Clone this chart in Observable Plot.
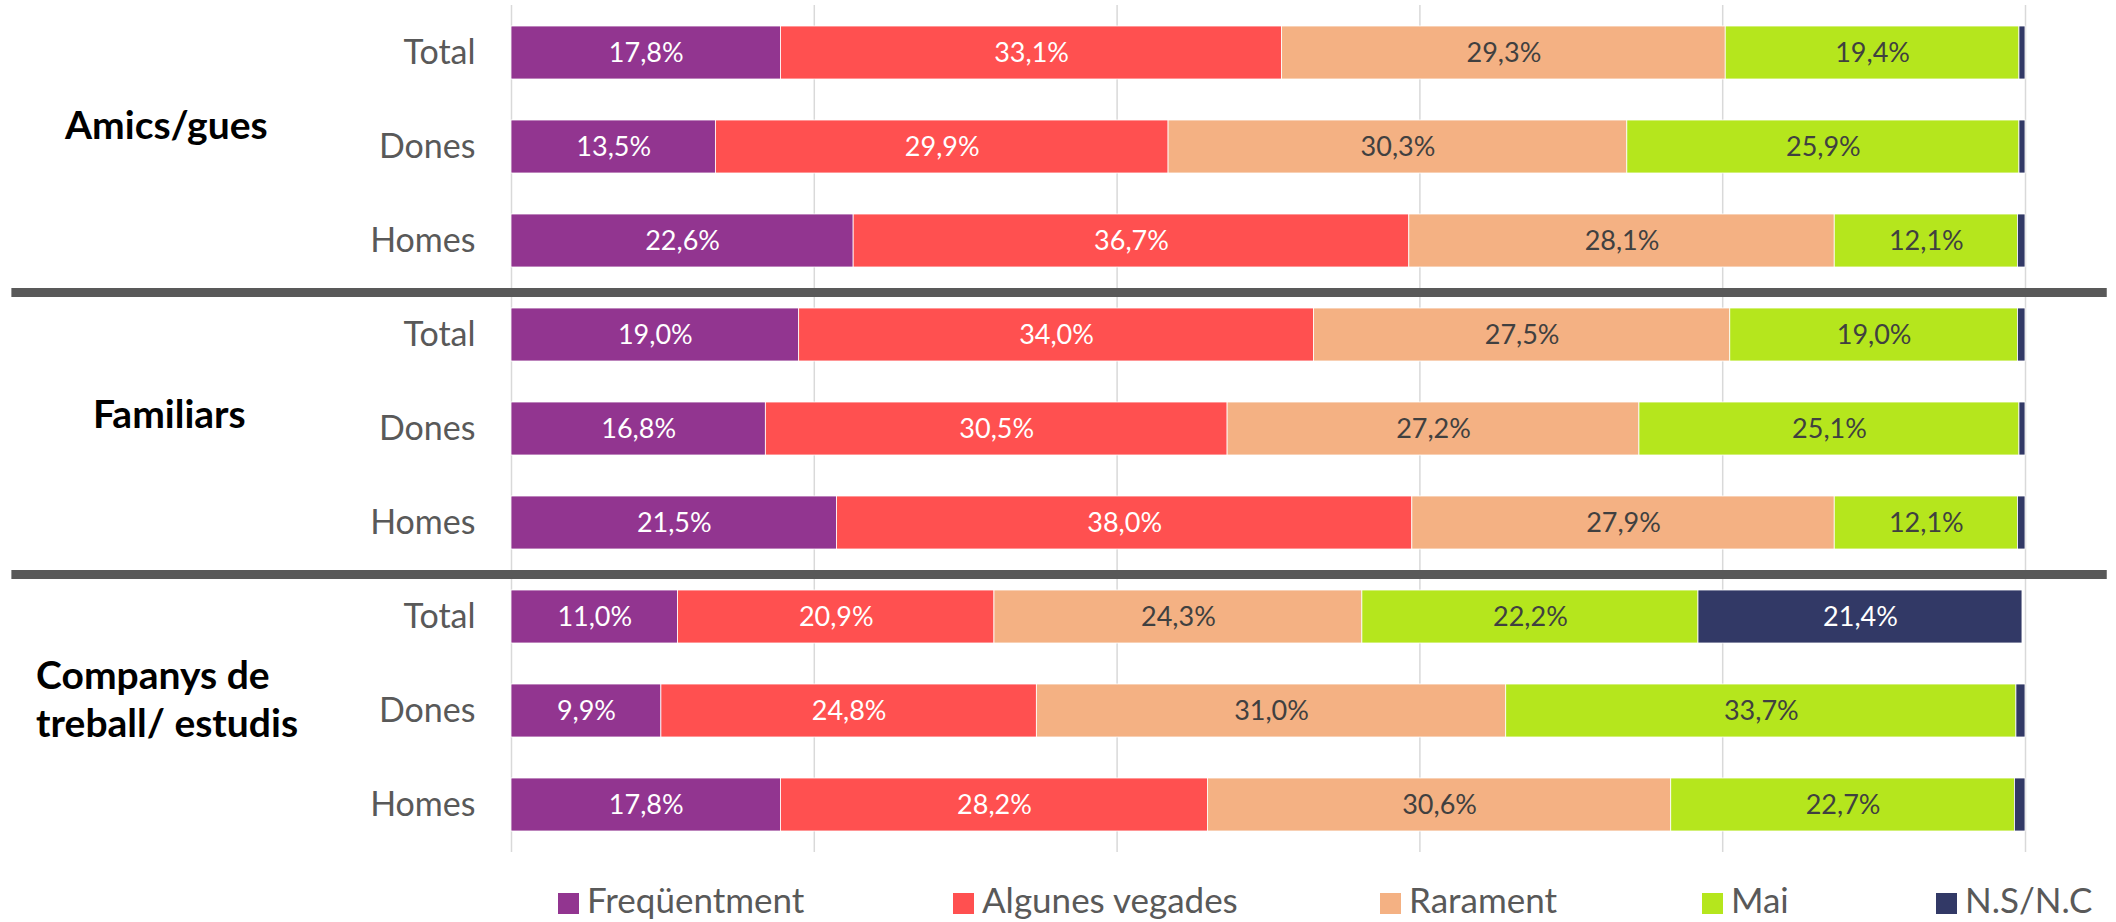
<!DOCTYPE html>
<html>
<head>
<meta charset="utf-8">
<script src="https://cdn.jsdelivr.net/npm/d3@7"></script>
<script src="https://cdn.jsdelivr.net/npm/@observablehq/plot@0.6"></script>
<style>
  html, body { margin: 0; padding: 0; background: #ffffff; }
  #wrap { position: relative; width: 2116px; height: 922px; overflow: hidden; font-family: Lato, "Open Sans", sans-serif; }
  #chart { position: absolute; left: 0; top: 0; }
  .leg { position: absolute; top: 882px; height: 35px; line-height: 35px; font-size: 35px; color: #595959; white-space: nowrap; }
  .leg .sw { position: absolute; left: 0; top: 11px; width: 21px; height: 21px; }
  .leg .lb { position: absolute; left: 29px; top: 0; }
</style>
</head>
<body>
<div id="wrap">
  <div id="chart"></div>
  <div id="legend"></div>
</div>
<script>
// ---- data ----
const groups = ["Amics/gues", "Familiars", "Companys de treball/ estudis"];
const groupTitles = ["Amics/gues", "Familiars", "Companys de\ntreball/ estudis"];
const subgroups = ["Total", "Dones", "Homes"];
const categories = ["Freqüentment", "Algunes vegades", "Rarament", "Mai", "N.S/N.C"];
const colors = ["#923590", "#FF5050", "#F4B183", "#B5E61D", "#323966"];

// rows in order: Amics(Total,Dones,Homes), Familiars(...), Companys(...)
const freqüentment   = [17.8, 13.5, 22.6, 19.0, 16.8, 21.5, 11.0,  9.9, 17.8];
const algunesVegades = [33.1, 29.9, 36.7, 34.0, 30.5, 38.0, 20.9, 24.8, 28.2];
const rarament       = [29.3, 30.3, 28.1, 27.5, 27.2, 27.9, 24.3, 31.0, 30.6];
const mai            = [19.4, 25.9, 12.1, 19.0, 25.1, 12.1, 22.2, 33.7, 22.7];
const nsnc           = [ 0.4,  0.4,  0.5,  0.5,  0.4,  0.5, 21.4,  0.6,  0.7];
const series = [freqüentment, algunesVegades, rarament, mai, nsnc];
const gridTicks = [0, 20, 40, 60, 80, 100];

// ---- build table ----
const rows = groups.flatMap(g => subgroups.map(s => g + "|" + s));
const data = rows.flatMap((r, i) => categories.map((c, j) => ({row: r, cat: c, value: series[j][i]})));
const lightText = ["Freqüentment", "Algunes vegades", "N.S/N.C"];
const fmt = v => v.toFixed(1).replace(".", ",") + "%";

const chart = Plot.plot({
  width: 2116,
  height: 860,
  marginLeft: 511,
  marginRight: 91,
  marginTop: 5,
  marginBottom: 8,
  style: {fontFamily: "Lato, 'Open Sans', sans-serif", fontSize: "34px", color: "#595959", background: "transparent", overflow: "visible"},
  x: {domain: [0, 100], axis: null},
  y: {domain: rows, paddingInner: 0.437, paddingOuter: 0.22, tickSize: 0, tickPadding: 36, tickFormat: d => d.split("|")[1], label: null},
  color: {domain: categories, range: colors},
  marks: [
    Plot.ruleX(gridTicks, {stroke: "#d9d9d9", strokeWidth: 1.5}),
    Plot.barX(data, Plot.stackX({x: "value", y: "row", fill: "cat", z: "cat", order: categories, stroke: "#ffffff", strokeWidth: 0.8})),
    Plot.text(data, Plot.stackX({x: "value", y: "row", z: "cat", order: categories,
      text: d => (lightText.includes(d.cat) && d.value >= 2) ? fmt(d.value) : "",
      fill: "#ffffff", fontSize: 27})),
    Plot.text(data, Plot.stackX({x: "value", y: "row", z: "cat", order: categories,
      text: d => (!lightText.includes(d.cat) && d.value >= 2) ? fmt(d.value) : "",
      fill: "#404040", fontSize: 27})),
    Plot.ruleY([rows[2], rows[5]], {x1: -33, x2: 105.4, stroke: "#595959", strokeWidth: 9, dy: 51.5}),
    Plot.text([groupTitles[0]], {x: -22.8, y: () => rows[1], text: d => d, dy: -20, textAnchor: "middle", fontWeight: "bold", fontSize: 39, fill: "#000000"}),
    Plot.text([groupTitles[1]], {x: -22.6, y: () => rows[4], text: d => d, dy: -13, textAnchor: "middle", fontWeight: "bold", fontSize: 39, fill: "#000000"}),
    Plot.text([groupTitles[2]], {x: -31.4, y: () => rows[7], text: d => d, dy: -13.5, textAnchor: "start", lineHeight: 1.24, fontWeight: "bold", fontSize: 39, fill: "#000000"})
  ]
});
document.getElementById("chart").appendChild(chart);

// ---- legend ----
const legendX = [558, 953, 1380, 1702, 1936];
const legend = document.getElementById("legend");
categories.forEach((c, i) => {
  const item = document.createElement("div");
  item.className = "leg";
  item.style.left = legendX[i] + "px";
  const sw = document.createElement("span");
  sw.className = "sw";
  sw.style.background = colors[i];
  const lb = document.createElement("span");
  lb.className = "lb";
  lb.textContent = c;
  item.appendChild(sw);
  item.appendChild(lb);
  legend.appendChild(item);
});
</script>
</body>
</html>
